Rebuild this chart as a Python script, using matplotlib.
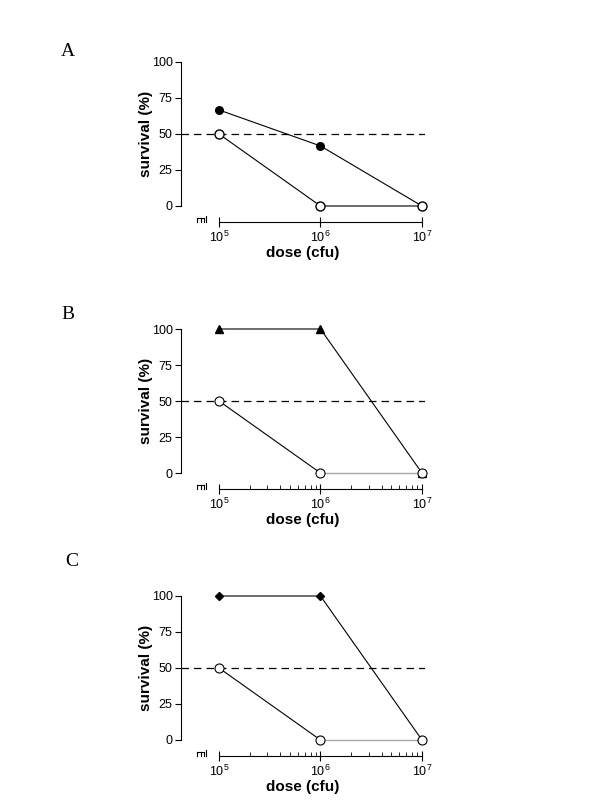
import matplotlib.pyplot as plt
from matplotlib.ticker import FixedLocator, NullLocator
from matplotlib import rcParams

rcParams["font.family"] = ["Liberation Sans", "DejaVu Sans"]
rcParams["font.size"] = 9

dose = [1e5, 1e6, 1e7]
a_filled = [66.7, 41.7, 0]
a_open = [50, 0, 0]
b_triangle = [100, 100, 0]
b_open = [50, 0, 0]
c_diamond = [100, 100, 0]
c_open = [50, 0, 0]
y_ticks = [0, 25, 50, 75, 100]
panel_letters = ["A", "B", "C"]

AX_H_PX = 144
OFFSET_PX = 16


def draw_break(ax):
    # little "m" shaped break mark left of the dose axis
    tr = ax.get_xaxis_transform()
    y0 = -OFFSET_PX / AX_H_PX
    up = 4 / AX_H_PX
    kw = dict(color="black", lw=0.8, transform=tr, clip_on=False)
    ax.plot([10**4.783, 10**4.852], [y0 + up, y0 + up], **kw)
    for e in (4.783, 4.818, 4.852):
        ax.plot([10**e, 10**e], [y0, y0 + up], **kw)
    ax.plot([10**4.875, 10**4.875], [y0, y0 + up * 1.5], **kw)


def format_axes(ax, minor):
    ax.set_xscale("log")
    ax.set_xlim(10**4.626, 10**7.03)
    ax.set_ylim(0, 100)
    ax.spines["top"].set_visible(False)
    ax.spines["right"].set_visible(False)
    ax.spines["bottom"].set_position(("outward", OFFSET_PX * 72 / 100))
    ax.spines["bottom"].set_bounds(1e5, 1e7)
    ax.spines["left"].set_bounds(0, 100)
    for s in ("left", "bottom"):
        ax.spines[s].set_linewidth(0.8)
    ax.set_yticks(y_ticks)
    ax.set_xticks(dose)
    if minor:
        subs = [m * 10**e for e in (5, 6) for m in range(2, 10)]
        ax.xaxis.set_minor_locator(FixedLocator(subs))
        ax.tick_params(axis="x", which="minor", direction="in", length=3, width=0.6)
    else:
        ax.xaxis.set_minor_locator(NullLocator())
    ax.tick_params(axis="x", which="major", direction="inout", length=7, width=0.8, pad=2)
    ax.tick_params(axis="y", direction="out", length=4, width=0.8, pad=2)
    ax.set_ylabel("survival (%)", fontsize=11, fontweight="bold", labelpad=-1)
    ax.set_xlabel("dose (cfu)", fontsize=11, fontweight="bold", labelpad=1)
    ax.axhline(50, color="black", lw=0.9, ls=(0, (6, 4)), zorder=1)
    draw_break(ax)


fig = plt.figure(figsize=(6, 8), dpi=100)
bottoms = [0.7425, 0.40875, 0.075]
axes = [fig.add_axes([0.3017, b, 0.4067, 0.18]) for b in bottoms]

ax = axes[0]
ax.plot(dose, a_filled, "-o", color="black", lw=0.8, ms=5.5, mfc="black", clip_on=False, zorder=3)
ax.plot(dose, a_open, "-o", color="black", lw=0.8, ms=6.5, mfc="white", clip_on=False, zorder=3)
format_axes(ax, minor=False)

ax = axes[1]
ax.plot(dose, b_triangle, "-^", color="black", lw=0.8, ms=6, mfc="black", clip_on=False, zorder=3)
ax.plot(dose[:2], b_open[:2], "-", color="black", lw=0.8, zorder=2, clip_on=False)
ax.plot(dose[1:], b_open[1:], "-", color="#a8a8a8", lw=1.0, zorder=2, clip_on=False)
ax.plot(dose, b_open, "o", color="black", ms=6.5, mfc="white", mew=0.8, clip_on=False, zorder=3)
format_axes(ax, minor=True)

ax = axes[2]
ax.plot(dose, c_diamond, "-D", color="black", lw=0.8, ms=4, mfc="black", clip_on=False, zorder=3)
ax.plot(dose[:2], c_open[:2], "-", color="black", lw=0.8, zorder=2, clip_on=False)
ax.plot(dose[1:], c_open[1:], "-", color="#a8a8a8", lw=1.0, zorder=2, clip_on=False)
ax.plot(dose, c_open, "o", color="black", ms=6.5, mfc="white", mew=0.8, clip_on=False, zorder=3)
format_axes(ax, minor=True)

letter_pos = [(0.113, 0.935), (0.113, 0.607), (0.12, 0.298)]
for letter, (x, y) in zip(panel_letters, letter_pos):
    fig.text(x, y, letter, fontsize=14, family=["Liberation Serif", "DejaVu Serif"],
             ha="center", va="center")

plt.savefig("out.png", dpi=100)
